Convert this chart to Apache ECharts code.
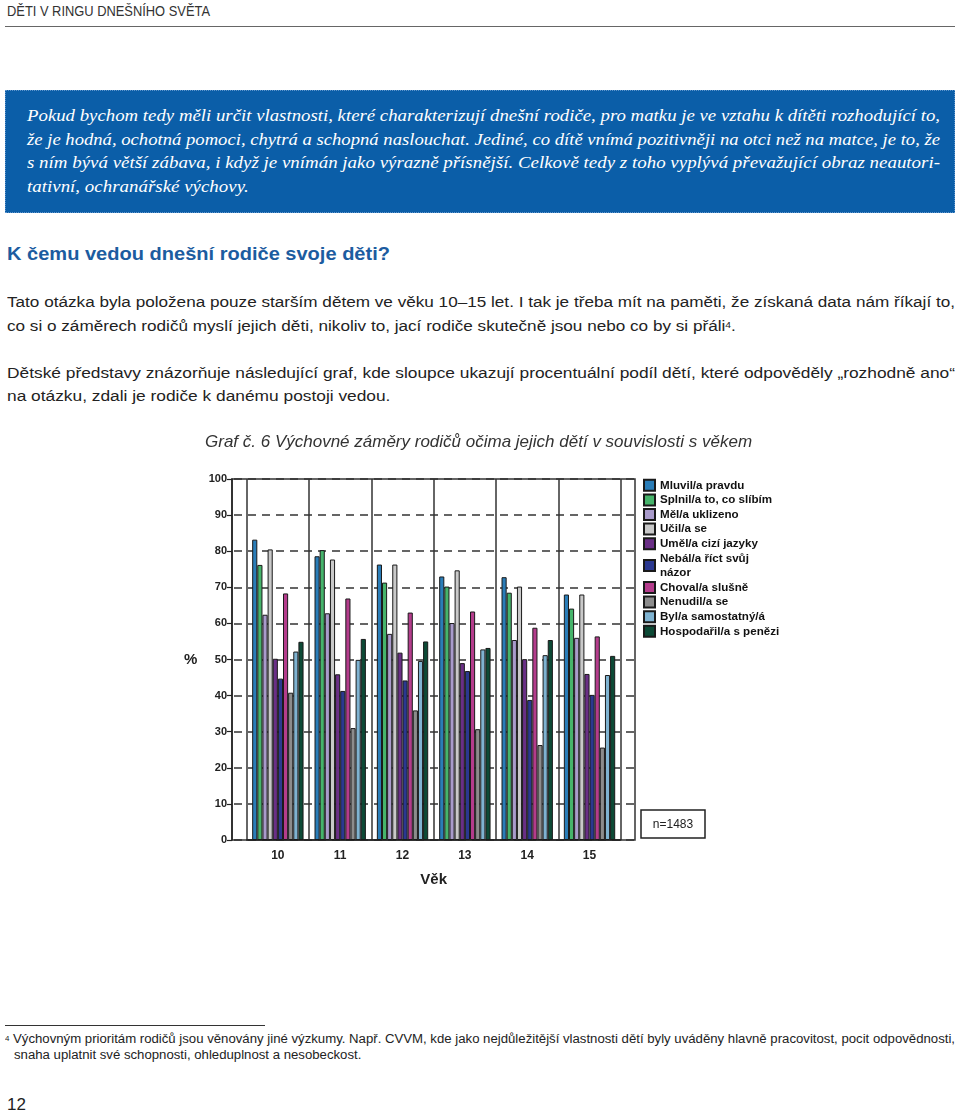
<!DOCTYPE html>
<html><head><meta charset="utf-8">
<script src="https://cdn.jsdelivr.net/npm/echarts@6/dist/echarts.min.js"></script>
<style>
html,body{margin:0;padding:0;background:#fff;}
body{width:960px;height:1115px;position:relative;overflow:hidden;font-family:"Liberation Sans",Arial,sans-serif;color:#222;}
.ln{position:absolute;white-space:nowrap;transform-origin:0 50%;}
.hdr{font-size:14.5px;line-height:16px;color:#333;}
.box{position:absolute;left:5px;top:90px;width:950px;height:123px;background:#0b5ea8;box-sizing:border-box;border:1px dotted #5d94cc;}
.bt{font-family:"Liberation Serif","Times New Roman",serif;font-style:italic;font-size:17px;line-height:22px;color:#fff;}
.h2{font-size:17.5px;font-weight:bold;line-height:22px;color:#1c5ca0;}
.p{font-size:15.5px;line-height:20px;color:#222;}
.fn{font-size:12.5px;line-height:15px;color:#222;}
.pg{font-size:17px;line-height:20px;color:#222;}
sup{font-size:60%;vertical-align:top;position:relative;top:-1px;}
#chart{position:absolute;left:0;top:420px;width:960px;height:490px;}
</style></head>
<body>
<div class="ln hdr" style="left:7px;top:3px" data-w="203">DĚTI V RINGU DNEŠNÍHO SVĚTA</div>
<div style="position:absolute;left:5px;top:26px;width:950px;height:0;border-top:1.5px solid #666"></div>

<div class="box"></div>
<div class="ln bt" style="left:27px;top:105px" data-w="913" data-g="b">Pokud bychom tedy měli určit vlastnosti, které charakterizují dnešní rodiče, pro matku je ve vztahu k dítěti rozhodující to,</div>
<div class="ln bt" style="left:27px;top:129px" data-w="913" data-g="b">že je hodná, ochotná pomoci, chytrá a schopná naslouchat. Jediné, co dítě vnímá pozitivněji na otci než na matce, je to, že</div>
<div class="ln bt" style="left:27px;top:152px" data-w="913" data-g="b">s ním bývá větší zábava, i když je vnímán jako výrazně přísnější. Celkově tedy z toho vyplývá převažující obraz neautori-</div>
<div class="ln bt" style="left:27px;top:176px" data-g="b">tativní, ochranářské výchovy.</div>

<div class="ln h2" style="left:7px;top:243px" data-w="383">K čemu vedou dnešní rodiče svoje děti?</div>

<div class="ln p" style="left:7px;top:292px" data-w="948" data-g="p1">Tato otázka byla položena pouze starším dětem ve věku 10–15 let. I tak je třeba mít na paměti, že získaná data nám říkají to,</div>
<div class="ln p" style="left:7px;top:316px" data-g="p1">co si o záměrech rodičů myslí jejich děti, nikoliv to, jací rodiče skutečně jsou nebo co by si přáli<sup>4</sup>.</div>
<div class="ln p" style="left:7px;top:363px" data-w="948" data-g="p2">Dětské představy znázorňuje následující graf, kde sloupce ukazují procentuální podíl dětí, které odpověděly „rozhodně ano“</div>
<div class="ln p" style="left:7px;top:386px" data-g="p2">na otázku, zdali je rodiče k danému postoji vedou.</div>

<div id="chart"></div>

<div style="position:absolute;left:5px;top:1025px;width:260px;height:0;border-top:1px solid #333"></div>
<div class="ln fn" style="left:5px;top:1032px" data-w="950" data-g="f"><sup>4</sup> Výchovným prioritám rodičů jsou věnovány jiné výzkumy. Např. CVVM, kde jako nejdůležitější vlastnosti dětí byly uváděny hlavně pracovitost, pocit odpovědnosti,</div>
<div class="ln fn" style="left:14px;top:1048px" data-g="f">snaha uplatnit své schopnosti, ohleduplnost a nesobeckost.</div>
<div class="ln pg" style="left:7px;top:1095px">12</div>

<script>
// ---- fit text lines ----
(function(){
  const scales = {};
  document.querySelectorAll('.ln').forEach(el=>{
    const g = el.dataset.g;
    const nat = el.getBoundingClientRect().width;
    let s = null;
    if (el.dataset.w) { s = parseFloat(el.dataset.w)/nat; if (g) scales[g]=s; }
    else if (g && scales[g]) { s = scales[g]; }
    if (s) el.style.transform = 'scaleX(' + s + ')';
  });
})();

// ---- data ----
const ages = ['10','11','12','13','14','15'];
const seriesNames = ['Mluvil/a pravdu','Splnil/a to, co slíbím','Měl/a uklizeno','Učil/a se','Uměl/a cizí jazyky','Nebál/a říct svůj názor','Choval/a slušně','Nenudil/a se','Byl/a samostatný/á','Hospodařil/a s penězi'];
const mluvil   = [83.2,78.6,76.3,73.0,72.8,68.0];
const splnil   = [76.2,80.3,71.3,70.2,68.5,64.1];
const mel      = [62.4,62.8,57.1,60.1,55.4,56.0];
const ucil     = [80.5,77.7,76.3,74.7,70.2,68.0];
const umel     = [50.2,45.9,51.9,49.0,50.1,46.0];
const nebal    = [44.7,41.3,44.2,46.8,38.8,40.2];
const choval   = [68.3,66.9,63.0,63.3,58.8,56.4];
const nenudil  = [40.8,31.0,35.9,30.7,26.3,25.6];
const byl      = [52.2,49.9,49.6,52.8,51.2,45.7];
const hospodaril = [54.9,55.7,55.0,53.2,55.4,51.0];
const allValues = [mluvil,splnil,mel,ucil,umel,nebal,choval,nenudil,byl,hospodaril];
const colors = ['#2a7db8','#46b46b','#a99bcb','#c9c9c9','#6a2f86','#2b3890','#b43c8c','#8c8c8c','#7fb3d1','#0d4a36'];
const captionText = 'Graf č. 6 Výchovné záměry rodičů očima jejich dětí v souvislosti s věkem';
const sampleText = 'n=1483';

const chart = echarts.init(document.getElementById('chart'), null, {renderer:'canvas'});
const font = '"Liberation Sans", Arial, sans-serif';
const option = {
  animation: false,
  textStyle: {fontFamily: font},
  title: {
    text: captionText, left: 205, top: 14, padding: 0,
    textStyle: {fontFamily: font, fontStyle: 'italic', fontWeight: 'normal', fontSize: 17, color: '#333'}
  },
  legend: {
    orient: 'vertical', left: 643, top: 58, padding: 0,
    itemWidth: 11, itemHeight: 11, itemGap: 0, icon: 'rect',
    selectedMode: false,
    data: seriesNames,
    formatter: n => n === 'Nebál/a říct svůj názor' ? 'Nebál/a říct svůj\nnázor' : n,
    textStyle: {fontFamily: font, fontWeight: 'bold', fontSize: 11.6, lineHeight: 14.6, color: '#111'}
  },
  grid: [
    {left: 232, right: 325, top: 59, bottom: 70, show: true, borderColor: '#333', borderWidth: 1.5, backgroundColor: 'transparent'},
    {left: 246.7, right: 339.3, top: 59, bottom: 70}
  ],
  xAxis: [
    {gridIndex: 0, type: 'category', data: ages, show: false},
    {gridIndex: 1, type: 'category', data: ages,
      axisLine: {show: true, lineStyle: {color: '#222', width: 1.5}},
      axisTick: {show: false},
      splitLine: {show: true, lineStyle: {color: '#333', width: 1.5}},
      axisLabel: {margin: 10, fontFamily: font, fontWeight: 'bold', fontSize: 12, color: '#222'}
    }
  ],
  yAxis: [
    {gridIndex: 0, type: 'value', min: 0, max: 100, interval: 10,
      axisLine: {show: true, lineStyle: {color: '#222', width: 1.5}},
      axisTick: {show: true, length: 5, lineStyle: {color: '#222', width: 1.2}},
      axisLabel: {margin: 5, fontFamily: font, fontWeight: 'bold', fontSize: 11, color: '#222'},
      splitLine: {show: true, lineStyle: {color: '#333', width: 1.6, type: [8, 6], dashOffset: -2}}
    },
    {gridIndex: 1, type: 'value', min: 0, max: 100, interval: 10, show: false, splitLine: {show: false}}
  ],
  graphic: [
    {type: 'text', left: 184, top: 232, style: {text: '%', font: 'bold 15px ' + font, fill: '#222'}},
    {type: 'text', x: 433.7, y: 460, style: {text: 'Věk', font: 'bold 15px ' + font, fill: '#222', textAlign: 'center', textVerticalAlign: 'middle'}},
    {type: 'rect', shape: {x: 641, y: 390, width: 64, height: 28}, style: {fill: '#fff', stroke: '#222', lineWidth: 1.5}},
    {type: 'text', x: 673, y: 405, style: {text: sampleText, font: '12px ' + font, fill: '#222', textAlign: 'center', textVerticalAlign: 'middle'}}
  ],
  series: seriesNames.map((n, i) => ({
    name: n, type: 'bar', xAxisIndex: 1, yAxisIndex: 1,
    data: allValues[i],
    barGap: '0%', barCategoryGap: '17.6%',
    itemStyle: {color: colors[i], borderColor: '#1a1a1a', borderWidth: 1}
  }))
};
chart.setOption(option);
</script>
</body></html>
